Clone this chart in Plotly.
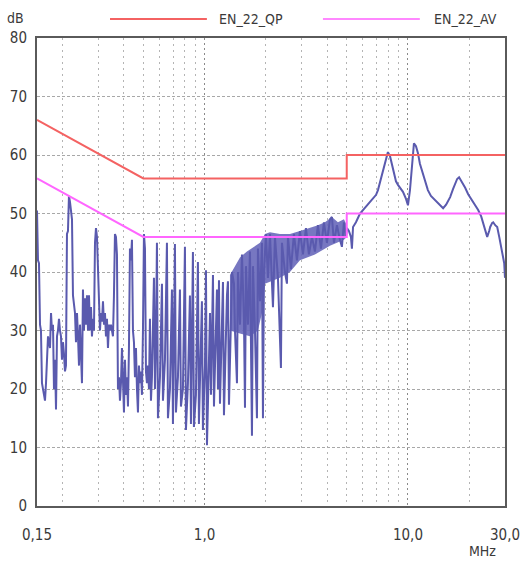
import plotly.graph_objects as go

# Conducted emission scan, 150 kHz .. 30 MHz (frequency in MHz, level in dB)
scan_freq = [
    0.1500, 0.1517, 0.1534, 0.1552, 0.1569, 0.1587, 0.1624, 0.1642, 0.1661, 0.1680,
    0.1699, 0.1738, 0.1758, 0.1777, 0.1798, 0.1818, 0.1839, 0.1860, 0.1881, 0.1902,
    0.1924, 0.1946, 0.1968, 0.1990, 0.2013, 0.2036, 0.2059, 0.2082, 0.2106, 0.2130,
    0.2154, 0.2179, 0.2204, 0.2229, 0.2254, 0.2280, 0.2306, 0.2332, 0.2359, 0.2386,
    0.2413, 0.2440, 0.2468, 0.2496, 0.2524, 0.2553, 0.2582, 0.2612, 0.2641, 0.2672,
    0.2702, 0.2733, 0.2764, 0.2795, 0.2827, 0.2859, 0.2892, 0.2925, 0.2958, 0.2992,
    0.3026, 0.3060, 0.3095, 0.3130, 0.3166, 0.3202, 0.3238, 0.3275, 0.3312, 0.3350,
    0.3388, 0.3426, 0.3465, 0.3545, 0.3585, 0.3626, 0.3667, 0.3709, 0.3751, 0.3794,
    0.3837, 0.3881, 0.3925, 0.3970, 0.4015, 0.4061, 0.4107, 0.4153, 0.4201, 0.4248,
    0.4297, 0.4346, 0.4395, 0.4445, 0.4496, 0.4547, 0.4599, 0.4651, 0.4704, 0.4758,
    0.4812, 0.4867, 0.4922, 0.4978, 0.5035, 0.5092, 0.5150, 0.5208, 0.5268, 0.5328,
    0.5388, 0.5450, 0.5511, 0.5638, 0.5702, 0.5767, 0.5832, 0.5899, 0.6034, 0.6172,
    0.6243, 0.6386, 0.6531, 0.6606, 0.6757, 0.6911, 0.6990, 0.7150, 0.7232, 0.7397,
    0.7566, 0.7652, 0.7827, 0.8007, 0.8098, 0.8283, 0.8472, 0.8569, 0.8765, 0.8865,
    0.9068, 0.9275, 0.9380, 0.9595, 0.9704, 0.9815, 1.0045, 1.0160, 1.0275, 1.0511,
    1.0631, 1.0752, 1.0873, 1.0997, 1.1122, 1.1377, 1.1506, 1.1637, 1.1770, 1.1904,
    1.2176, 1.2315, 1.2455, 1.2741, 1.2885, 1.3032, 1.3181, 1.3483, 1.3635, 1.3949,
    1.4108, 1.4429, 1.4594, 1.4929, 1.5269, 1.5620, 1.5798, 1.5978, 1.6343, 1.6718,
    1.7099, 1.7294, 1.7692, 1.8094, 1.8300, 1.8722, 1.9148, 1.9366, 1.9587, 2.0036,
    2.0493, 2.0962, 2.1690, 2.2186, 2.2949, 2.3740, 2.4011, 2.4837, 2.5409, 2.5699,
    2.6585, 2.7500, 2.8454, 2.9439, 3.0453, 3.1504, 3.2585, 3.3718, 3.4880, 3.6086,
    3.7333, 3.8620, 3.9957, 4.1333, 4.2283, 4.3253, 4.4744, 4.6289, 4.7349, 4.8435,
    4.9541, 5.0105, 5.125, 5.243, 5.302, 5.37, 5.55, 5.81, 6.08, 6.29,
    6.51, 6.73, 6.97, 7.12, 7.37, 7.53, 7.80, 7.97, 8.16, 8.44,
    8.73, 8.93, 9.24, 9.45, 9.78, 10.0, 10.23, 10.46, 10.70, 10.95,
    11.20, 11.45, 11.85, 12.26, 12.53, 12.97, 13.59, 14.22, 14.89, 15.40,
    16.12, 16.67, 17.05, 17.45, 17.84, 18.47, 19.11, 19.77, 20.69, 21.40,
    22.14, 22.91, 23.43, 23.97, 24.52, 25.08, 25.37, 25.95, 26.25, 26.85,
    27.47, 28.10, 28.42, 29.07, 29.40, 29.73, 30.0,
]
scan_db = [
    50.5, 42, 41.5, 31, 30, 21, 19, 18, 21, 25,
    29, 27, 33, 30, 31, 20, 25, 16.5, 29, 30,
    32, 30, 29, 25, 28, 26, 23, 24, 46.5, 47,
    53, 52, 50, 49, 36, 34, 33, 28, 33, 29,
    24, 31, 23, 21, 37, 30, 35.5, 31, 36, 30,
    36, 30, 34, 29, 32, 30, 45, 47.5, 46, 40,
    34, 30, 33, 31.5, 35, 31, 33, 29, 32, 27,
    31, 30, 31, 29, 36, 46.5, 46, 43, 20, 22,
    18, 21, 27, 19, 16, 25, 19, 22, 17, 27,
    44, 42, 45.5, 30, 28, 22, 27, 20, 16, 24,
    21, 23, 19, 30, 46.5, 44, 23, 21, 24, 20,
    32, 18, 22, 39, 20, 28, 45, 15, 22, 38,
    18, 25, 45, 15, 20, 37, 14, 44.8, 16, 22,
    37, 17, 20, 44.3, 13, 21, 36, 14, 43.4, 13.5,
    19, 41.7, 14, 28, 35, 13, 24, 40.3, 10.4, 25,
    33, 19, 28, 39.5, 17, 30, 37, 20, 38.6, 17.5,
    33, 38.3, 15.5, 30, 36, 38.4, 17.3, 32, 40, 38,
    30, 21, 40, 31, 43, 32, 16.8, 41, 31, 43.5,
    12, 41, 30, 15, 44, 35, 45, 15, 40, 46.5,
    39, 46.5, 34, 46, 39, 23.6, 45, 40, 38, 46,
    40.5, 46.5, 42, 47, 43, 47.5, 43, 46, 43.5, 48,
    44, 48.5, 45, 49, 49.4, 45, 48, 45.5, 44.3, 48.5,
    46, 47.5, 47, 46, 44, 47.7, 48.5, 50, 50.8, 51.4,
    52, 52.6, 53.2, 54, 56, 57.4, 59.5, 60.5, 59.8, 57.4,
    55.5, 54.9, 54.2, 53.7, 52.5, 51.4, 54, 58.6, 62, 61.5,
    60.3, 58.5, 56.9, 55, 54, 53, 52.3, 51.5, 50.9, 51.5,
    52.8, 54.2, 55.2, 55.9, 56.2, 55.4, 54.4, 53.3, 52.3, 51.5,
    50.6, 49.5, 48.4, 47, 46, 47, 47.7, 48.4, 48.5, 48,
    47.7, 46, 45, 43.5, 42.6, 41.5, 39,
]

# Dense sweep region 1.3 .. 5 MHz: upper and lower envelope of the band
band_upper_freq = [1.3331, 1.4108, 1.4929, 1.6158, 1.7692, 1.8722, 1.9810, 2.0962, 2.3473,
                   2.6286, 2.9439, 3.2963, 3.6086, 3.9062, 4.2283, 4.5254, 4.8435, 5.0105]
band_upper_db = [39.5, 41, 42.5, 43.5, 44.5, 45, 46.5, 46.8, 46.5,
                 46.5, 47, 47.5, 48, 48.5, 49.4, 48.5, 49, 48]
band_lower_freq = [1.3331, 1.4929, 1.6718, 1.8300, 1.9148, 1.9810, 2.3473, 2.6286,
                   2.9439, 3.4880, 4.1333, 4.8435, 5.0105]
band_lower_db = [30, 29.5, 29, 30, 33, 38, 39, 40, 42, 43, 44.5, 45.5, 46]

# EN 55022 limit lines
qp_freq = [0.15, 0.5, 5, 5, 30]
qp_db = [66, 56, 56, 60, 60]
av_freq = [0.15, 0.5, 5, 5, 30]
av_db = [56, 46, 46, 50, 50]

# Axis labelling
x_major = [0.15, 1, 10, 30]
x_major_text = ["0,15", "1,0", "10,0", "30,0"]
x_minor = [0.2, 0.3, 0.4, 0.5, 0.6, 0.7, 0.8, 0.9, 2, 3, 4, 5, 6, 7, 8, 9, 20]
y_ticks = [0, 10, 20, 30, 40, 50, 60, 70, 80]

TRACE = "#5a5aae"
QP_COLOR = "#f46262"
AV_COLOR = "#ff66ff"
FONT = "DejaVu Sans Condensed, Liberation Sans Narrow, Liberation Sans, sans-serif"
TXT = "#3a3a3a"

fig = go.Figure()

fig.add_trace(go.Scatter(
    x=band_upper_freq + band_lower_freq[::-1],
    y=band_upper_db + band_lower_db[::-1],
    mode="lines", fill="toself", fillcolor="rgba(104,104,186,0.9)",
    line=dict(width=0), hoverinfo="skip", showlegend=False,
))
fig.add_trace(go.Scatter(
    x=scan_freq, y=scan_db, mode="lines",
    line=dict(color=TRACE, width=2), showlegend=False,
))
fig.add_trace(go.Scatter(
    x=qp_freq, y=qp_db, mode="lines",
    line=dict(color=QP_COLOR, width=2), showlegend=False,
))
fig.add_trace(go.Scatter(
    x=av_freq, y=av_db, mode="lines",
    line=dict(color=AV_COLOR, width=2), showlegend=False,
))

fig.update_xaxes(
    type="log",
    range=[-0.8239, 1.4771],
    automargin=False,
    tickmode="array", tickvals=x_major, ticktext=x_major_text,
    ticks="outside", ticklen=14, tickcolor="rgba(0,0,0,0)",
    tickfont=dict(family=FONT, size=15, color=TXT),
    showgrid=True, gridcolor="#8a8a8a", gridwidth=1, griddash="2px,3px",
    minor=dict(tickvals=x_minor, showgrid=True, gridcolor="#b4b4b4",
               gridwidth=1, griddash="2px,4px", ticks=""),
    showline=True, linecolor="#5a5a5a", linewidth=2, mirror=True,
    zeroline=False,
)
fig.update_yaxes(
    range=[0, 80],
    automargin=False,
    tickmode="array", tickvals=y_ticks,
    ticks="outside", ticklen=5, tickcolor="rgba(0,0,0,0)",
    tickfont=dict(family=FONT, size=15, color=TXT),
    showgrid=True, gridcolor="#a8a8a8", gridwidth=1, griddash="3px,2px",
    showline=True, linecolor="#5a5a5a", linewidth=2, mirror=True,
    zeroline=False,
)

# Legend keys drawn above the plot frame
fig.add_shape(type="line", xref="paper", yref="paper",
              x0=0.156, x1=0.363, y0=1.0406, y1=1.0406,
              line=dict(color=QP_COLOR, width=2))
fig.add_shape(type="line", xref="paper", yref="paper",
              x0=0.611, x1=0.818, y0=1.0406, y1=1.0406,
              line=dict(color="#ff88ff", width=2))
fig.add_annotation(text="EN_22_QP", xref="paper", yref="paper", x=0.385, y=1.0406,
                   xanchor="left", yanchor="middle", showarrow=False,
                   font=dict(family=FONT, size=14, color=TXT))
fig.add_annotation(text="EN_22_AV", xref="paper", yref="paper", x=0.844, y=1.0406,
                   xanchor="left", yanchor="middle", showarrow=False,
                   font=dict(family=FONT, size=14, color=TXT))
fig.add_annotation(text="dB", xref="paper", yref="paper", x=-0.045, y=1.043,
                   xanchor="center", yanchor="middle", showarrow=False,
                   font=dict(family=FONT, size=14, color=TXT))
fig.add_annotation(text="MHz", xref="paper", yref="paper", x=0.951, y=-0.096,
                   xanchor="center", yanchor="middle", showarrow=False,
                   font=dict(family=FONT, size=14, color=TXT))

fig.update_layout(
    width=525, height=562,
    margin=dict(l=37, r=20, t=38, b=56),
    paper_bgcolor="white", plot_bgcolor="white",
    showlegend=False,
)

fig.write_html("out.html")
